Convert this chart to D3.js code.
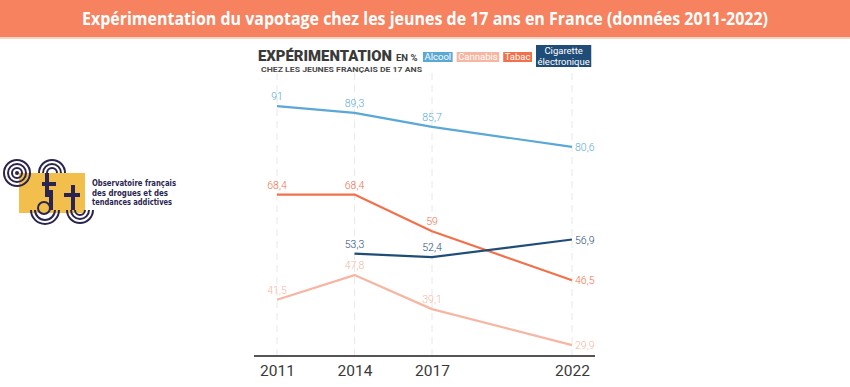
<!DOCTYPE html>
<meta charset="utf-8">
<head>
  <title>Vapotage 17 ans</title>
</head>
<style>
body { margin: 0; background: #fff; }
svg { display: block; }
.year { font-family: Roboto, sans-serif; font-size: 15.5px; font-weight: 400; fill: #3a3a3a; }
.val { font-family: Roboto, sans-serif; font-size: 10.5px; font-weight: 300; }
</style>
<body>
<svg id="chart" width="850" height="387"></svg>
<script src="https://cdn.jsdelivr.net/npm/d3@7"></script>
<script>
// data (OFDT, ESCAPAD)
var years = [2011, 2014, 2017, 2022];
var seriesNames = ["Alcool", "Cannabis", "Tabac", "Cigarette électronique"];
var alcool = [91, 89.3, 85.7, 80.6];
var cannabis = [41.5, 47.8, 39.1, 29.9];
var tabac = [68.4, 68.4, 59, 46.5];
var cigarette = [null, 53.3, 52.4, 56.9];

var title = "Expérimentation du vapotage chez les jeunes de 17 ans en France (données 2011-2022)";

var colors = {
  "Alcool": "#5aa8d6",
  "Cannabis": "#f6b6a2",
  "Tabac": "#f2714b",
  "Cigarette électronique": "#1f4d78"
};

var svg = d3.select("#chart");

// header band
svg.append("rect").attr("width", 850).attr("height", 37).attr("fill", "#f7825f");
svg.append("rect").attr("y", 37).attr("width", 850).attr("height", 2).attr("fill", "#fbd3c4");
svg.append("text")
  .attr("x", 425).attr("y", 25)
  .attr("text-anchor", "middle")
  .attr("textLength", 686).attr("lengthAdjust", "spacingAndGlyphs")
  .style("font-family", "'Open Sans', sans-serif").style("font-weight", 700)
  .style("font-size", "17px").attr("fill", "#fff")
  .text(title);

// logo (rough)
var navy = "#2a2550";
var logo = svg.append("g");
logo.append("rect").attr("x", 19).attr("y", 173).attr("width", 66).attr("height", 40).attr("fill", "#f3bf4c");
var arc = d3.arc();
function rings(cx, cy, a0, a1, rs) {
  rs.forEach(function(r) {
    logo.append("path")
      .attr("transform", "translate(" + cx + "," + cy + ")")
      .attr("d", arc({innerRadius: r - 1, outerRadius: r + 1, startAngle: a0, endAngle: a1}))
      .attr("fill", navy);
  });
}
rings(17, 173, 0, 2 * Math.PI, [5, 9, 13]);
logo.append("circle").attr("cx", 17).attr("cy", 173).attr("r", 2).attr("fill", navy);
rings(52, 173, -Math.PI / 2, Math.PI / 2, [5, 9, 13]);
logo.append("rect").attr("x", 45).attr("y", 173).attr("width", 4).attr("height", 24).attr("fill", navy);
logo.append("rect").attr("x", 42).attr("y", 182).attr("width", 14).attr("height", 4).attr("fill", navy);
rings(44, 208, 0, 2 * Math.PI, [6]);
logo.append("rect").attr("x", 49).attr("y", 190).attr("width", 4).attr("height", 20).attr("fill", navy);
rings(45, 210, Math.PI / 2, 3 * Math.PI / 2, [10, 14]);
logo.append("rect").attr("x", 71).attr("y", 185).attr("width", 4).attr("height", 25).attr("fill", navy);
logo.append("rect").attr("x", 64).attr("y", 193).attr("width", 16).attr("height", 4).attr("fill", navy);
rings(80, 210, Math.PI / 2, 3 * Math.PI / 2, [5, 9, 13]);

var logoLines = ["Observatoire français", "des drogues et des", "tendances addictives"];
var logoWidths = [84, 76, 80];
logo.selectAll("text.logo").data(logoLines).enter().append("text")
  .attr("x", 92).attr("y", function(d, i) { return 186 + i * 9.5; })
  .attr("textLength", function(d, i) { return logoWidths[i]; })
  .attr("lengthAdjust", "spacingAndGlyphs")
  .style("font-family", "'DejaVu Sans Condensed', 'DejaVu Sans', sans-serif")
  .style("font-weight", 700).style("font-size", "9.5px").attr("fill", navy)
  .text(function(d) { return d; });

// scales
var x = d3.scaleLinear().domain([2011, 2017, 2022]).range([277, 432, 572]);
var y = d3.scaleLinear().domain([0, 100]).range([462, 71]);

// dashed year guides
svg.append("g").selectAll("line").data(years).enter().append("line")
  .attr("x1", x).attr("x2", x).attr("y1", 73).attr("y2", 355)
  .attr("stroke", "#e8e8e8").attr("stroke-width", 1).attr("stroke-dasharray", "7,5");

// x axis
var xAxis = svg.append("g").attr("transform", "translate(0,356)")
  .call(d3.axisBottom(x).tickValues(years).tickFormat(d3.format("d")).tickSize(0).tickPadding(9));
xAxis.select(".domain").remove();
xAxis.selectAll("text").attr("class", "year").attr("fill", null);
svg.append("line").attr("x1", 254).attr("x2", 595).attr("y1", 356).attr("y2", 356)
  .attr("stroke", "#555").attr("stroke-width", 2);

// lines and labels
var fr = d3.formatLocale({decimal: ",", thousands: " ", grouping: [3], currency: ["", " €"]});
var fmt = fr.format("~");
var series = [
  {name: "Cannabis", values: cannabis},
  {name: "Tabac", values: tabac},
  {name: "Cigarette électronique", values: cigarette},
  {name: "Alcool", values: alcool}
];
var line = d3.line()
  .defined(function(d) { return d.v != null; })
  .x(function(d) { return x(d.year); })
  .y(function(d) { return y(d.v); });

series.forEach(function(s) {
  var pts = years.map(function(yr, i) { return {year: yr, v: s.values[i]}; });
  svg.append("path").datum(pts)
    .attr("d", line).attr("fill", "none")
    .attr("stroke", colors[s.name]).attr("stroke-width", 2.2)
    .attr("stroke-linejoin", "round");
  var last = pts.length - 1;
  svg.append("g").selectAll("text").data(pts.filter(function(d) { return d.v != null; }))
    .enter().append("text").attr("class", "val")
    .attr("fill", colors[s.name])
    .attr("x", function(d) { return d.year === years[last] ? x(d.year) + 3 : x(d.year); })
    .attr("y", function(d) { return d.year === years[last] ? y(d.v) + 4 : y(d.v) - 6; })
    .attr("text-anchor", function(d) { return d.year === years[last] ? "start" : "middle"; })
    .text(function(d) { return fmt(d.v); });
});

// legend
svg.append("text").attr("x", 258).attr("y", 61)
  .attr("textLength", 134).attr("lengthAdjust", "spacingAndGlyphs")
  .style("font-family", "Roboto, sans-serif").style("font-weight", 900).style("font-size", "14px")
  .attr("fill", "#3a3a3a").text("EXPÉRIMENTATION");
svg.append("text").attr("x", 396).attr("y", 61)
  .style("font-family", "Roboto, sans-serif").style("font-weight", 700).style("font-size", "9.5px")
  .attr("fill", "#3a3a3a").text("EN %");
svg.append("text").attr("x", 261).attr("y", 72)
  .attr("textLength", 161).attr("lengthAdjust", "spacingAndGlyphs")
  .style("font-family", "Roboto, sans-serif").style("font-weight", 700).style("font-size", "8px")
  .attr("fill", "#4a4a4a").text("CHEZ LES JEUNES FRANÇAIS DE 17 ANS");

var lx = 423;
seriesNames.forEach(function(n) {
  var g = svg.append("g");
  var words = n === "Cigarette électronique" ? ["Cigarette", "électronique"] : [n];
  var box = g.append("rect").attr("fill", colors[n]);
  var tx = g.selectAll("text").data(words).enter().append("text")
    .attr("y", function(d, i) { return words.length > 1 ? 54 + i * 11 : 60; })
    .attr("text-anchor", "middle")
    .style("font-family", "Roboto, sans-serif").style("font-size", "9.5px").attr("fill", "#fff")
    .text(function(d) { return d; });
  var w = d3.max(tx.nodes(), function(t) { return t.getComputedTextLength(); }) + 3;
  tx.attr("x", lx + w / 2);
  if (words.length > 1) box.attr("x", lx).attr("y", 45).attr("width", w).attr("height", 22);
  else box.attr("x", lx).attr("y", 52).attr("width", w).attr("height", 10);
  lx += w + 4;
});
</script>
</body>
</html>
